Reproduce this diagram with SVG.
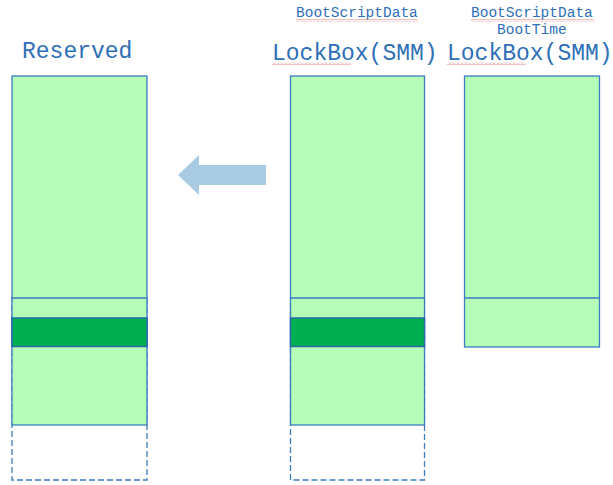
<svg xmlns="http://www.w3.org/2000/svg" width="613" height="485" viewBox="0 0 613 485">
  <style>
    .lbl { font-family: "Liberation Mono", "Courier New", monospace; fill: #2e6fb7; }
    .big { font-size: 23px; }
    .small { font-size: 14.5px; }
    .mem { fill: #b4fcb8; stroke: #3d7cc0; stroke-width: 1.3; }
    .hot { fill: #00b050; stroke: #2a6aa8; stroke-width: 1.5; }
    .div { stroke: #3d7cc0; stroke-width: 1.3; fill: none; }
    .free { fill: #ffffff; stroke: #3d7cc0; stroke-width: 1.3; stroke-dasharray: 6 3; }
    .squig { fill: none; stroke: #e06666; stroke-width: 0.8; }
  </style>
  <defs>
    <pattern id="wave" width="4" height="3" patternUnits="userSpaceOnUse">
      <path class="squig" d="M0 2.5 L2 0.5 L4 2.5"/>
    </pattern>
  </defs>
  <rect width="613" height="485" fill="#ffffff"/>

  <!-- Reserved region (destination) -->
  <g id="reserved">
    <rect class="free" x="12" y="298" width="135" height="182"/>
    <rect class="mem" x="12" y="76" width="135" height="349"/>
    <line class="div" x1="12" y1="298" x2="147" y2="298"/>
    <rect class="hot" x="12" y="318" width="135" height="28.5"/>
    <text class="lbl big" x="22" y="58">Reserved</text>
  </g>

  <!-- SMM lockbox holding boot script data -->
  <g id="lockbox-smm">
    <rect class="free" x="290.5" y="298" width="134" height="182"/>
    <rect class="mem" x="290.5" y="76" width="134" height="349"/>
    <line class="div" x1="290.5" y1="298" x2="424.5" y2="298"/>
    <rect class="hot" x="290.5" y="318" width="134" height="28.5"/>
    <text class="lbl small" x="296" y="17">BootScriptData</text>
    <rect x="296" y="19" width="122" height="3" fill="url(#wave)"/>
    <text class="lbl big" x="272" y="60">LockBox(SMM)</text>
    <rect x="272" y="62" width="79" height="3" fill="url(#wave)"/>
  </g>

  <!-- SMM lockbox holding boot-time boot script data -->
  <g id="lockbox-smm-boottime">
    <rect class="mem" x="464.5" y="76" width="135" height="271"/>
    <line class="div" x1="464.5" y1="298" x2="599.5" y2="298"/>
    <text class="lbl small" x="471" y="17">BootScriptData</text>
    <rect x="471" y="19" width="123" height="3" fill="url(#wave)"/>
    <text class="lbl small" x="497" y="34">BootTime</text>
    <text class="lbl big" x="447" y="60">LockBox(SMM)</text>
    <rect x="447" y="62" width="79" height="3" fill="url(#wave)"/>
  </g>

  <!-- copy direction -->
  <g id="connectors">
    <polygon points="178,175 199,155 199,165 266,165 266,185 199,185 199,195" fill="#a8cbe3"/>
  </g>
</svg>
